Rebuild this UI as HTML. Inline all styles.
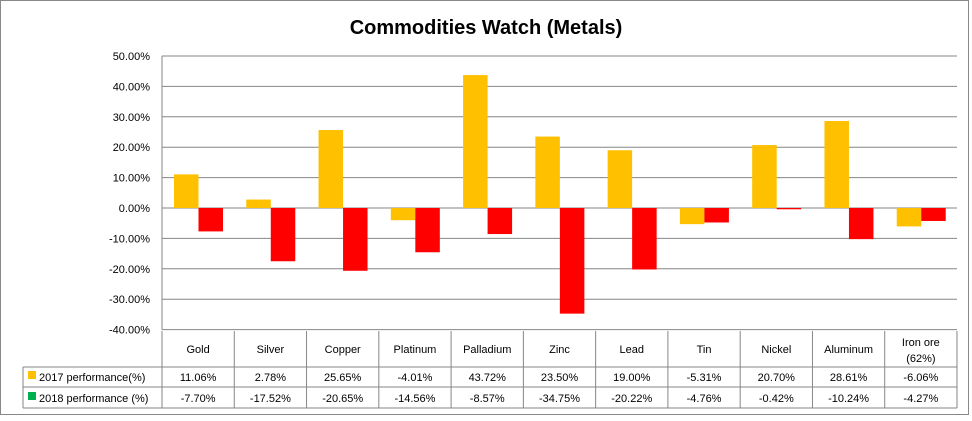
<!DOCTYPE html>
<html><head><meta charset="utf-8"><style>
body{margin:0;background:#fff;}
svg text{font-family:"Liberation Sans",sans-serif;}
</style></head><body>
<svg id="c" width="972" height="416" xmlns="http://www.w3.org/2000/svg">
<rect x="0.5" y="0.5" width="968" height="414" fill="#fff" stroke="#888"/>
<text x="486" y="34" text-anchor="middle" font-size="20" font-weight="bold" fill="#000">Commodities Watch (Metals)</text>
<g id="g"></g>
</svg>
<script>
const categories=["Gold","Silver","Copper","Platinum","Palladium","Zinc","Lead","Tin","Nickel","Aluminum","Iron ore|(62%)"];
const values2017=[11.06,2.78,25.65,-4.01,43.72,23.50,19.00,-5.31,20.70,28.61,-6.06];
const values2018=[-7.70,-17.52,-20.65,-14.56,-8.57,-34.75,-20.22,-4.76,-0.42,-10.24,-4.27];
const ticks=[50,40,30,20,10,0,-10,-20,-30,-40];
const L=162,R=957,Y0=208,PX=3.04;
const cw=(R-L)/categories.length;
const y=v=>Y0-v*PX;
const xc=i=>L+i*cw;
const g=document.getElementById('g');
const NS='http://www.w3.org/2000/svg';
function mk(t,a){const e=document.createElementNS(NS,t);for(const k in a)e.setAttribute(k,a[k]);g.appendChild(e);return e;}
ticks.forEach(t=>{
 const l=mk('line',{x1:L,x2:R,y1:y(t),y2:y(t),stroke:'#868686','stroke-width':1});
 
 
 const tx=mk('text',{x:150,y:y(t)+4,'text-anchor':'end','font-size':11,fill:'#000'});
 tx.textContent=t.toFixed(2)+'%';
 
 
});
const ax=mk('line',{x1:L,x2:L,y1:y(50),y2:y(-40),stroke:'#868686'});


const bw=24.5;
categories.forEach((c,i)=>{
 const x0=xc(i)+12;
 const a=values2017[i],b=values2018[i];
 const r1=mk('rect',{x:x0,y:Math.min(y(a),Y0),width:bw,height:Math.abs(a*PX),fill:'#ffc000'});
 
 
 const r2=mk('rect',{x:x0+bw,y:Math.min(y(b),Y0),width:bw,height:Math.abs(b*PX),fill:'#ff0000'});
 
 
});
// table
const T=331,H1=367,H2=387,B=408,LL=23;
const st='#868686';
[[LL,H1,R,H1],[LL,H2,R,H2],[LL,B,R,B],[LL,H1,LL,B]].forEach(p=>{const l=mk('line',{x1:p[0],y1:p[1],x2:p[2],y2:p[3],stroke:st});});
for(let i=0;i<=categories.length;i++){
 const l=mk('line',{x1:xc(i),x2:xc(i),y1:T,y2:B,stroke:st});
 
 
}
categories.forEach((c,i)=>{
 const cx=xc(i)+cw/2;const parts=c.split('|');
 parts.forEach((p,j)=>{
  const t=mk('text',{x:cx,y:(parts.length>1?346+j*16:353),'text-anchor':'middle','font-size':11,fill:'#000'});
  t.textContent=p;
  
  
 });
 [[values2017[i],381],[values2018[i],402]].forEach(v=>{
  const t=mk('text',{x:cx,y:v[1],'text-anchor':'middle','font-size':11,fill:'#000'});
  t.textContent=v[0].toFixed(2)+'%';
  
  
 });
});
[['#ffc000','2017 performance(%)',371,381],['#00b050','2018 performance (%)',392,402]].forEach(r=>{
 const k=mk('rect',{x:28,y:r[2],width:8,height:8,fill:r[0]});
 
 
 const t=mk('text',{x:39,y:r[3],'font-size':11,fill:'#000'});
 t.textContent=r[1];
 
 
});
</script>
</body></html>
